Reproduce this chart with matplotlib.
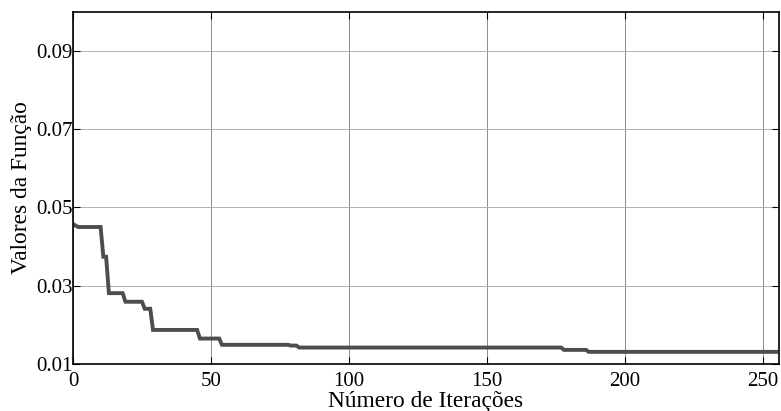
import matplotlib

matplotlib.use("Agg")
import matplotlib.pyplot as plt
import numpy as np

# iteration at which each new best value appears, and that value
change_iter = [0, 1, 2, 11, 13, 19, 26, 29, 46, 54, 79, 82, 178, 187]
best_value = [0.0458, 0.0453, 0.0450, 0.0374, 0.0281, 0.0259, 0.0241, 0.0187,
              0.0165, 0.0149, 0.0147, 0.0142, 0.0136, 0.0131]
last_iter = 255

x_ticks = [0, 50, 100, 150, 200, 250]
y_ticks = [0.01, 0.03, 0.05, 0.07, 0.09]


def main():
    plt.rcParams["font.family"] = ["Liberation Serif", "DejaVu Serif"]

    # expand the change points into one value per iteration
    lengths = np.diff(change_iter + [last_iter + 1])
    it = np.arange(last_iter + 1)
    vals = np.repeat(best_value, lengths)

    fig = plt.figure(figsize=(7.81, 4.11), dpi=100)
    ax = fig.add_axes([0.0935, 0.1144, 0.904, 0.857])

    ax.plot(it, vals, color="#4d4d4d", lw=2.8, solid_joinstyle="miter")

    ax.set_xlim(0, 256)
    ax.set_ylim(0.01, 0.1)
    ax.set_xticks(x_ticks)
    ax.set_yticks(y_ticks)
    ax.set_yticklabels([f"{v:.2f}" for v in y_ticks])
    ax.tick_params(direction="in", top=True, right=True, length=5, width=0.8,
                   labelsize=15)
    ax.tick_params(axis="x", pad=6)
    ax.tick_params(axis="y", pad=0.5)
    # vertical grid lines are a touch darker than the horizontal ones
    ax.grid(True, axis="x", color="#8c8c8c", lw=0.7)
    ax.grid(True, axis="y", color="#b0b0b0", lw=0.7)
    ax.set_axisbelow(True)
    for s in ax.spines.values():
        s.set_linewidth(1.2)

    ax.set_xlabel("Número de Iterações", fontsize=16.8, labelpad=-0.5)
    ax.set_ylabel("Valores da Função", fontsize=16.8, labelpad=3)

    fig.savefig("out.png", dpi=100)


if __name__ == "__main__":
    main()
